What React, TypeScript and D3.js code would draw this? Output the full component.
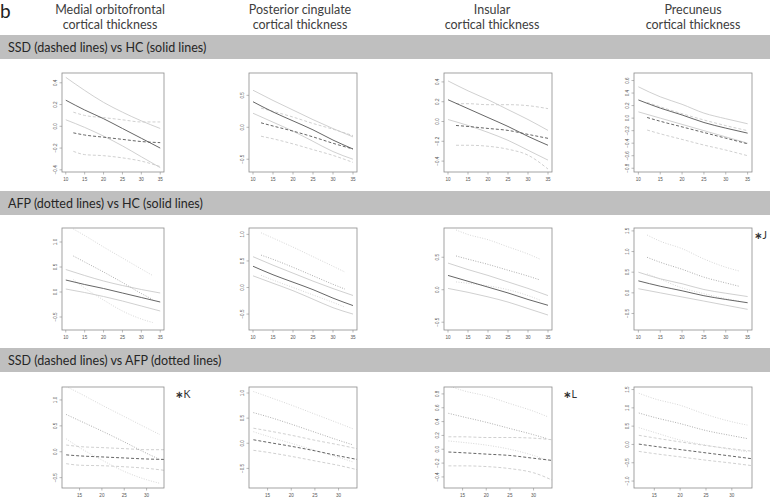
import React from "react";
import * as d3 from "d3";

// column titles (brain regions) and row banners
const regions = ["Medial orbitofrontal", "Posterior cingulate", "Insular", "Precuneus"];
const rowTitles = [
  "SSD (dashed lines) vs HC (solid lines)",
  "AFP (dotted lines) vs HC (solid lines)",
  "SSD (dashed lines) vs AFP (dotted lines)",
];
const rowGroups = [["hc", "ssd"], ["hc", "afp"], ["ssd", "afp"]];
const notes = [["", "", "", ""], ["", "", "", "J"], ["K", "", "L", ""]];

// ages (x) at which each group's curves were read
const hcAges = [10, 15, 20, 25, 30, 35];
const ssdAges = [12, 15, 20, 25, 30, 35];
const afpAges = [12, 15, 20, 25, 30, 33];

// healthy controls: fit, lower and upper bound, one row per region
const hcMean = [
  [0.24, 0.15, 0.07, -0.02, -0.11, -0.2],
  [0.4, 0.24, 0.1, -0.04, -0.2, -0.34],
  [0.22, 0.13, 0.04, -0.05, -0.15, -0.24],
  [0.29, 0.16, 0.05, -0.07, -0.16, -0.24],
];
const hcLow = [
  [0.06, -0.01, -0.09, -0.18, -0.28, -0.38],
  [0.22, 0.08, -0.06, -0.22, -0.38, -0.5],
  [0.02, -0.04, -0.11, -0.19, -0.29, -0.39],
  [0.1, 0.0, -0.1, -0.2, -0.3, -0.4],
];
const hcHigh = [
  [0.45, 0.33, 0.22, 0.13, 0.05, -0.02],
  [0.58, 0.42, 0.27, 0.12, -0.02, -0.15],
  [0.41, 0.31, 0.22, 0.12, 0.02, -0.09],
  [0.5, 0.34, 0.22, 0.08, -0.01, -0.09],
];

// SSD
const ssdMean = [
  [-0.06, -0.08, -0.1, -0.12, -0.14, -0.15],
  [0.07, 0.02, -0.06, -0.15, -0.25, -0.34],
  [-0.04, -0.05, -0.07, -0.09, -0.13, -0.17],
  [0.01, -0.05, -0.14, -0.23, -0.32, -0.41],
];
const ssdLow = [
  [-0.23, -0.26, -0.27, -0.29, -0.32, -0.37],
  [-0.14, -0.18, -0.26, -0.35, -0.44, -0.55],
  [-0.24, -0.24, -0.25, -0.28, -0.34, -0.48],
  [-0.19, -0.25, -0.34, -0.43, -0.51, -0.6],
];
const ssdHigh = [
  [0.13, 0.1, 0.08, 0.06, 0.04, 0.04],
  [0.3, 0.25, 0.16, 0.06, -0.03, -0.13],
  [0.18, 0.18, 0.17, 0.17, 0.16, 0.13],
  [0.25, 0.18, 0.07, -0.03, -0.12, -0.2],
];

// AFP
const afpMean = [
  [0.72, 0.6, 0.4, 0.19, -0.03, -0.15],
  [0.61, 0.53, 0.38, 0.22, 0.06, -0.03],
  [0.52, 0.47, 0.39, 0.3, 0.21, 0.15],
  [0.86, 0.74, 0.57, 0.38, 0.24, 0.16],
];
const afpLow = [
  [0.25, 0.08, -0.16, -0.38, -0.54, -0.61],
  [0.23, 0.14, 0.0, -0.14, -0.28, -0.37],
  [0.12, 0.1, 0.06, 0.0, -0.09, -0.16],
  [0.46, 0.33, 0.12, -0.02, -0.14, -0.2],
];
const afpHigh = [
  [1.26, 1.13, 0.9, 0.68, 0.46, 0.33],
  [1.03, 0.93, 0.76, 0.58, 0.4, 0.29],
  [0.92, 0.85, 0.77, 0.66, 0.55, 0.47],
  [1.4, 1.25, 1.07, 0.82, 0.62, 0.53],
];

// y extent of every panel and its tick labels
const yDomains = [
  [[-0.42, 0.49], [-0.7, 0.85], [-0.51, 0.49], [-0.86, 0.72]],
  [[-0.76, 1.28], [-0.8, 1.12], [-0.62, 0.95], [-0.9, 1.57]],
  [[-0.7, 1.25], [-0.89, 1.12], [-0.56, 0.9], [-1.19, 1.57]],
];
const yTicks = [
  [[-0.4, -0.2, 0, 0.2, 0.4], [-0.5, 0, 0.5], [-0.4, -0.2, 0, 0.2, 0.4], [-0.8, -0.6, -0.4, -0.2, 0, 0.2, 0.4, 0.6]],
  [[-0.5, 0, 0.5, 1], [-0.5, 0, 0.5, 1], [-0.5, 0, 0.5], [-0.5, 0, 0.5, 1, 1.5]],
  [[-0.5, 0, 0.5, 1], [-0.5, 0, 0.5, 1], [-0.4, -0.2, 0, 0.2, 0.4, 0.6, 0.8], [-1, -0.5, 0, 0.5, 1, 1.5]],
];
const xTicksFull = [10, 15, 20, 25, 30, 35];
const xTicksShort = [15, 20, 25, 30];

const groups = {
  hc: { ages: hcAges, mean: hcMean, low: hcLow, high: hcHigh, dash: null, meanColor: "#555", bandColor: "#cbcbcb" },
  ssd: { ages: ssdAges, mean: ssdMean, low: ssdLow, high: ssdHigh, dash: "3,2", meanColor: "#555", bandColor: "#cbcbcb" },
  afp: { ages: afpAges, mean: afpMean, low: afpLow, high: afpHigh, dash: "1,1.5", meanColor: "#a5a5a5", bandColor: "#d2d2d2" },
};

const W = 770;
const H = 499;
const colLeft = [62, 249, 444, 634];
const colRight = [164, 357, 552, 752];
const rowTop = [73, 228, 387];
const rowBottom = [172, 330, 488];
const bannerY = [35, 191, 348];
const titleX = [110, 300, 492, 693];
const fmt = d3.format(".1f");
const tickFont = "Liberation Sans, Arial, sans-serif";
const textFont = "Lato, 'Open Sans', sans-serif";

function Panel({ row, col }: { row: number; col: number }) {
  const left = colLeft[col], right = colRight[col];
  const top = rowTop[row], bottom = rowBottom[row];
  const x = d3.scaleLinear().domain(row === 2 ? [11.07, 33.9] : [9, 36]).range([left, right]);
  const y = d3.scaleLinear().domain(yDomains[row][col]).range([bottom, top]);
  const xt = row === 2 ? xTicksShort : xTicksFull;
  const clipId = `clip-${row}-${col}`;

  const paths: any[] = [];
  rowGroups[row].forEach((key) => {
    const g = (groups as any)[key];
    const line = d3
      .line<number>()
      .x((_, i) => x(g.ages[i]))
      .y((d) => y(d))
      .curve(d3.curveMonotoneX);
    [g.low[col], g.high[col]].forEach((vals: number[], k: number) =>
      paths.push({ d: line(vals), color: g.bandColor, dash: g.dash, order: 0, key: `${key}-b${k}` })
    );
    paths.push({ d: line(g.mean[col]), color: g.meanColor, dash: g.dash, order: 1, key: `${key}-m` });
  });
  paths.sort((a, b) => a.order - b.order);

  return (
    <g>
      <defs>
        <clipPath id={clipId}>
          <rect x={left} y={top} width={right - left} height={bottom - top} />
        </clipPath>
      </defs>
      <g clipPath={`url(#${clipId})`}>
        {paths.map((p) => (
          <path key={p.key} d={p.d} fill="none" stroke={p.color} strokeWidth={0.9} strokeDasharray={p.dash || undefined} />
        ))}
      </g>
      <rect x={left} y={top} width={right - left} height={bottom - top} fill="none" stroke="#8c8c8c" strokeWidth={0.8} />
      {yTicks[row][col].map((t) => (
        <g key={`y${t}`}>
          <line x1={left - 2.5} x2={left} y1={y(t)} y2={y(t)} stroke="#8c8c8c" strokeWidth={0.6} />
          <text
            transform={`translate(${left - 5},${y(t)}) rotate(-90)`}
            textAnchor="middle"
            fontSize={4.6}
            fontFamily={tickFont}
            fill="#555"
          >
            {fmt(t)}
          </text>
        </g>
      ))}
      {xt.map((t) => (
        <g key={`x${t}`}>
          <line x1={x(t)} x2={x(t)} y1={bottom} y2={bottom + 2.5} stroke="#8c8c8c" strokeWidth={0.6} />
          <text x={x(t)} y={bottom + 8.5} textAnchor="middle" fontSize={4.6} fontFamily={tickFont} fill="#555">
            {t}
          </text>
        </g>
      ))}
      {notes[row][col] && (
        <text x={Math.min(right + 11, W - 16)} y={top + 11} fontSize={10.5} fontFamily={textFont} fill="#333">
          <tspan fontFamily="DejaVu Sans" fontWeight="bold" fontSize={10}>{"\u2217"}</tspan>
          <tspan>{notes[row][col]}</tspan>
        </text>
      )}
    </g>
  );
}

export default function App() {
  return (
    <svg width={W} height={H} style={{ position: "absolute", left: 0, top: 0, background: "#fff" }}>
      <rect width={W} height={H} fill="#fff" />
      <text x={0} y={18} fontSize={19} fontFamily={textFont} fill="#222">b</text>
      {regions.map((r, i) => (
        <text key={r} x={titleX[i]} textAnchor="middle" fontSize={12.5} fontFamily={textFont} fill="#404040">
          <tspan x={titleX[i]} y={14}>{r}</tspan>
          <tspan x={titleX[i]} y={29}>cortical thickness</tspan>
        </text>
      ))}
      {rowTitles.map((t, i) => (
        <g key={t}>
          <rect x={0} y={bannerY[i]} width={W} height={24} fill="#bfbfbf" />
          <text x={8} y={bannerY[i] + 16.5} fontSize={12.5} fontFamily={textFont} fill="#262626">
            {t}
          </text>
        </g>
      ))}
      {[0, 1, 2].map((r) => [0, 1, 2, 3].map((c) => <Panel key={`${r}-${c}`} row={r} col={c} />))}
    </svg>
  );
}
